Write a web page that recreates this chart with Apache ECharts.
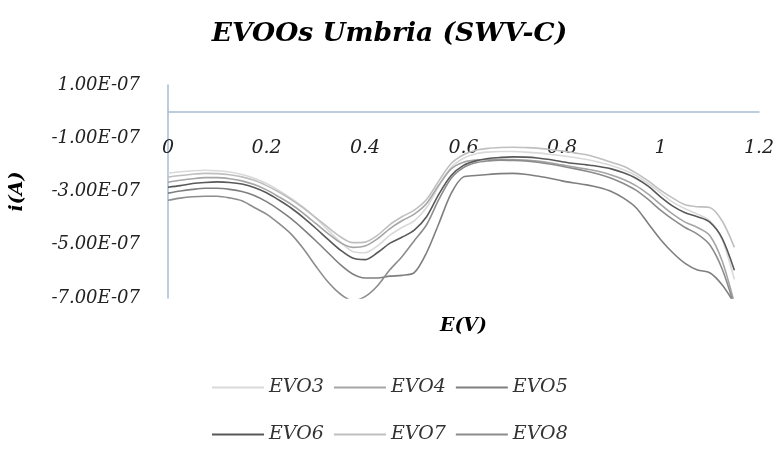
<!DOCTYPE html>
<html>
<head>
<meta charset="utf-8">
<script src="https://cdn.jsdelivr.net/npm/echarts@6/dist/echarts.min.js"></script>
<style>
  html, body { margin: 0; padding: 0; background: #fff; }
  #chart { width: 779px; height: 452px; }
</style>
</head>
<body>
<div id="chart"></div>
<script>
// Potential sweep (V)
const potential = [0, 0.025, 0.05, 0.075, 0.1, 0.125, 0.15, 0.175, 0.2, 0.225, 0.25, 0.275,
  0.3, 0.325, 0.35, 0.375, 0.4, 0.425, 0.45, 0.475, 0.5, 0.525, 0.55, 0.575, 0.6, 0.625,
  0.65, 0.675, 0.7, 0.725, 0.75, 0.775, 0.8, 0.825, 0.85, 0.875, 0.9, 0.925, 0.95, 0.975,
  1.0, 1.025, 1.05, 1.075, 1.1, 1.125, 1.15];

// Current, in units of 1e-7 A
const evo3 = [-2.31, -2.26, -2.22, -2.20, -2.22, -2.27, -2.36, -2.50, -2.70, -2.96, -3.26, -3.60,
  -4.00, -4.45, -4.90, -5.25, -5.30, -5.05, -4.65, -4.35, -4.10, -3.60, -2.80, -2.10, -1.75, -1.58,
  -1.52, -1.50, -1.50, -1.52, -1.55, -1.60, -1.66, -1.72, -1.80, -1.90, -2.02, -2.18, -2.40, -2.70,
  -3.05, -3.40, -3.65, -3.85, -4.10, -4.80, -6.30];
const evo4 = [-2.65, -2.58, -2.52, -2.48, -2.48, -2.52, -2.60, -2.74, -2.94, -3.20, -3.48, -3.82,
  -4.20, -4.58, -4.92, -5.10, -5.05, -4.78, -4.40, -4.10, -3.85, -3.45, -2.75, -2.15, -1.90, -1.82,
  -1.80, -1.79, -1.80, -1.82, -1.86, -1.92, -2.00, -2.08, -2.16, -2.25, -2.38, -2.55, -2.78, -3.10,
  -3.48, -3.85, -4.15, -4.35, -4.65, -5.60, -7.20];
const evo5 = [-3.06, -2.98, -2.92, -2.88, -2.88, -2.92, -3.00, -3.15, -3.38, -3.68, -4.02, -4.42,
  -4.85, -5.30, -5.75, -6.10, -6.25, -6.25, -6.18, -6.15, -6.05, -5.30, -4.20, -3.07, -2.45, -2.40,
  -2.36, -2.33, -2.32, -2.35, -2.42, -2.50, -2.60, -2.68, -2.75, -2.85, -3.00, -3.25, -3.60, -4.20,
  -4.80, -5.30, -5.70, -5.95, -6.05, -6.50, -7.20];
const evo6 = [-2.84, -2.78, -2.70, -2.66, -2.64, -2.66, -2.72, -2.85, -3.05, -3.32, -3.62, -3.98,
  -4.38, -4.80, -5.20, -5.50, -5.56, -5.30, -4.95, -4.72, -4.45, -3.95, -3.10, -2.40, -2.02, -1.85,
  -1.76, -1.72, -1.70, -1.71, -1.74, -1.80, -1.88, -1.95, -2.00, -2.06, -2.15, -2.30, -2.50, -2.80,
  -3.20, -3.55, -3.80, -3.95, -4.15, -4.75, -5.96];
const evo7 = [-2.46, -2.40, -2.35, -2.32, -2.33, -2.37, -2.45, -2.58, -2.78, -3.02, -3.30, -3.62,
  -3.98, -4.35, -4.70, -4.92, -4.90, -4.65, -4.25, -3.95, -3.70, -3.30, -2.60, -1.95, -1.62, -1.45,
  -1.38, -1.35, -1.34, -1.35, -1.37, -1.42, -1.48, -1.55, -1.62, -1.75, -1.90, -2.05, -2.30, -2.60,
  -2.95, -3.25, -3.50, -3.57, -3.60, -4.10, -5.10];
const evo8 = [-3.33, -3.25, -3.20, -3.18, -3.18, -3.24, -3.35, -3.60, -3.85, -4.20, -4.60, -5.15,
  -5.80, -6.40, -6.85, -7.10, -6.95, -6.55, -5.95, -5.45, -4.85, -4.25, -3.30, -2.50, -2.10, -1.92,
  -1.85, -1.82, -1.83, -1.85, -1.90, -1.97, -2.05, -2.14, -2.24, -2.35, -2.50, -2.70, -2.95, -3.30,
  -3.70, -4.05, -4.35, -4.60, -5.00, -5.90, -7.30];

const seriesNames = ['EVO3', 'EVO4', 'EVO5', 'EVO6', 'EVO7', 'EVO8'];
const seriesValues = [evo3, evo4, evo5, evo6, evo7, evo8];
const seriesColors = ['#d9d9d9', '#a5a5a5', '#7f7f7f', '#595959', '#bfbfbf', '#8c8c8c'];

const FONT = 'DejaVu Serif';
const axisColor = '#a9bcd2';

const chart = echarts.init(document.getElementById('chart'), null, { renderer: 'canvas' });

const legendCommon = {
  icon: 'rect',
  itemWidth: 52,
  itemHeight: 2,
  itemGap: 10,
  textStyle: { fontFamily: FONT, fontStyle: 'italic', fontSize: 19, color: '#333' }
};

chart.setOption({
  animation: false,
  backgroundColor: '#fff',
  title: {
    text: 'EVOOs Umbria (SWV-C)',
    left: 'center',
    top: 16,
    textStyle: { fontFamily: FONT, fontStyle: 'italic', fontWeight: 'bold', fontSize: 26.5, color: '#000' }
  },
  legend: [
    Object.assign({ data: seriesNames.slice(0, 3), left: 207, top: 373 }, legendCommon),
    Object.assign({ data: seriesNames.slice(3), left: 207, top: 420 }, legendCommon)
  ],
  grid: { left: 168, right: 20, top: 85, bottom: 154, containLabel: false, outerBoundsMode: 'none' },
  xAxis: {
    type: 'value',
    min: 0, max: 1.2, interval: 0.2,
    name: 'E(V)',
    nameLocation: 'middle',
    nameGap: 19,
    nameTextStyle: { fontFamily: FONT, fontStyle: 'italic', fontWeight: 'bold', fontSize: 19, color: '#000' },
    axisLine: { onZero: true, lineStyle: { color: axisColor, width: 1.5 } },
    axisTick: { show: false },
    splitLine: { show: false },
    axisLabel: {
      // tick labels sit just under the zero line, inside the plot
      margin: -159,
      fontFamily: FONT, fontStyle: 'italic', fontSize: 19, color: '#222',
      formatter: v => String(+v.toFixed(1))
    }
  },
  yAxis: {
    type: 'value',
    min: -7, max: 1, interval: 1,
    name: 'i(A)',
    nameLocation: 'middle',
    nameRotate: 90,
    nameGap: 141,
    nameTextStyle: { fontFamily: FONT, fontStyle: 'italic', fontWeight: 'bold', fontSize: 19, color: '#000' },
    axisLine: { show: true, lineStyle: { color: axisColor, width: 1.5 } },
    axisTick: { show: false },
    splitLine: { show: false },
    axisLabel: {
      margin: 28,
      fontFamily: FONT, fontStyle: 'italic', fontSize: 18, color: '#222',
      formatter: v => {
        const k = Math.round(v);
        return Math.abs(k) % 2 === 1 ? k.toFixed(2) + 'E-07' : '';
      }
    }
  },
  series: seriesNames.map((name, s) => ({
    name,
    type: 'line',
    data: potential.map((e, j) => [e, seriesValues[s][j]]),
    smooth: 0.3,
    showSymbol: false,
    symbol: 'none',
    clip: true,
    color: seriesColors[s],
    lineStyle: { color: seriesColors[s], width: 1.6 }
  }))
});
</script>
</body>
</html>
